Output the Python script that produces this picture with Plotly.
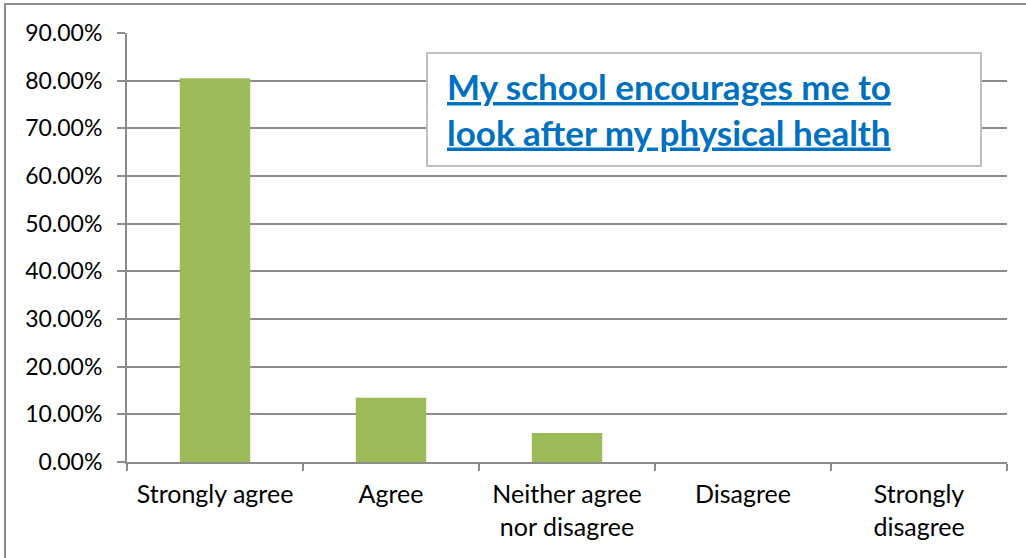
import plotly.graph_objects as go

categories = ["Strongly agree", "Agree", "Neither agree<br>nor disagree", "Disagree", "Strongly<br>disagree"]
values = [0.805, 0.135, 0.061, 0.0, 0.0]
y_ticks = [0, 0.1, 0.2, 0.3, 0.4, 0.5, 0.6, 0.7, 0.8, 0.9]
y_tick_labels = ["0.00%", "10.00%", "20.00%", "30.00%", "40.00%", "50.00%", "60.00%", "70.00%", "80.00%", "90.00%"]
title_text = "My school encourages me to<br>look after my physical health"

W, H = 1026, 558
L, R, T, B = 127, 19, 33, 96
pw, ph = W - L - R, H - T - B

def px(x):
    return (x - L) / pw

def py(y):
    return (H - B - y) / ph

fig = go.Figure(go.Bar(x=categories, y=values, marker=dict(color="#9BBB59", line=dict(width=0)), width=0.4))

fig.update_layout(
    width=W, height=H,
    margin=dict(l=L, r=R, t=T, b=B, autoexpand=False),
    paper_bgcolor="white", plot_bgcolor="white",
    showlegend=False,
    font=dict(family="Lato, Open Sans, sans-serif", size=23, color="#000000"),
    bargap=0.6,
)
fig.update_yaxes(
    range=[0, 0.9], tickvals=y_ticks, ticktext=y_tick_labels,
    showgrid=True, gridcolor="#8C8C8C", gridwidth=2,
    showline=True, linecolor="#8C8C8C", linewidth=2,
    ticks="outside", ticklen=8, tickcolor="#8C8C8C", tickwidth=2,
    zeroline=False, tickfont=dict(size=23), ticklabelstandoff=10,
)
fig.update_xaxes(
    showline=True, linecolor="#8C8C8C", linewidth=2,
    ticks="outside", tickson="boundaries", ticklen=7, tickcolor="#8C8C8C", tickwidth=2,
    showgrid=False, tickfont=dict(size=25), ticklabelstandoff=9,
)

# outer chart border
fig.add_shape(type="rect", xref="paper", yref="paper",
              x0=px(5), x1=px(1040), y0=py(570), y1=py(4),
              line=dict(color="#8C8C8C", width=2), fillcolor="rgba(0,0,0,0)", layer="above")
# title box
fig.add_shape(type="rect", xref="paper", yref="paper",
              x0=px(427), x1=px(981), y0=py(166), y1=py(53),
              line=dict(color="#C0C0C0", width=2), fillcolor="white", layer="above")
fig.add_annotation(
    xref="paper", yref="paper", x=px(445), y=py(109), xanchor="left", yanchor="middle",
    text="<u><b>" + title_text.replace("<br>", "</b></u><br><u><b>") + "</b></u>",
    showarrow=False, align="left",
    font=dict(family="Lato, Open Sans, sans-serif", size=35, color="#0070C0"),
)

fig.write_html("out.html", config={"displayModeBar": False},
               post_script="document.body.style.margin='0';document.body.style.padding='0';")
